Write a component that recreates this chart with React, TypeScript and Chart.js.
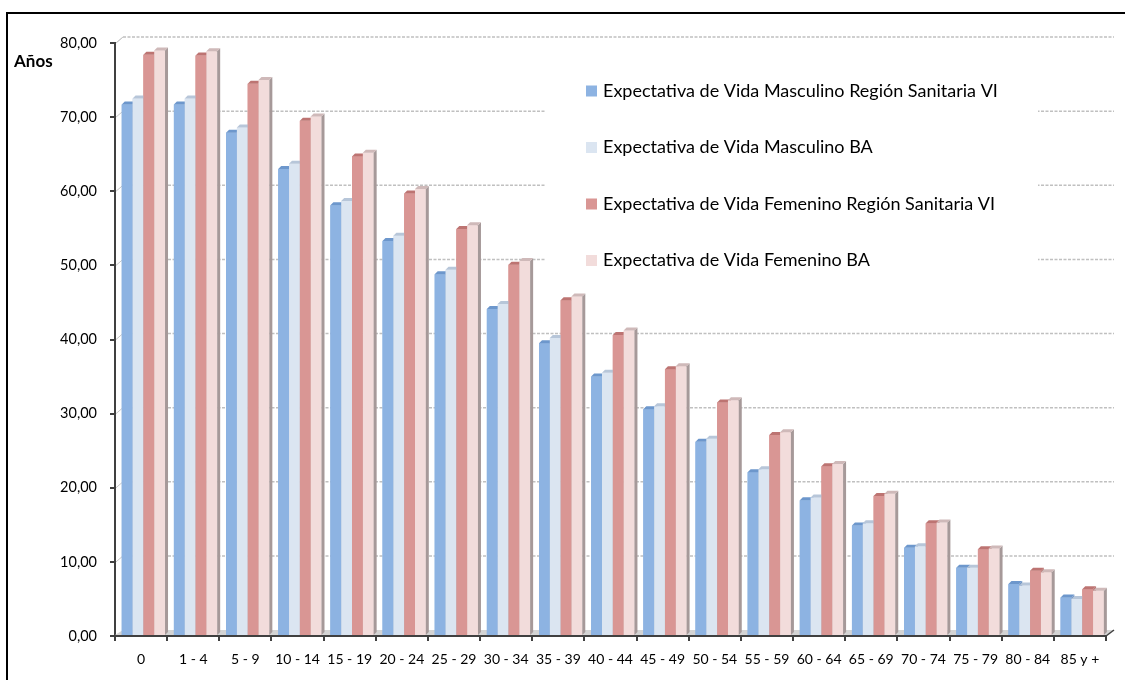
import React, { useEffect, useRef } from "react";
import { Chart, registerables } from "chart.js";

Chart.register(...registerables);

const categories = [
  "0", "1 - 4", "5 - 9", "10 - 14", "15 - 19", "20 - 24", "25 - 29", "30 - 34", "35 - 39",
  "40 - 44", "45 - 49", "50 - 54", "55 - 59", "60 - 64", "65 - 69", "70 - 74", "75 - 79",
  "80 - 84", "85 y +",
];

const seriesLabels = [
  "Expectativa de Vida Masculino Región Sanitaria VI",
  "Expectativa de Vida Masculino BA",
  "Expectativa de Vida Femenino Región Sanitaria VI",
  "Expectativa de Vida Femenino BA",
];

const masculinoRegion = [71.7, 71.7, 67.9, 63.0, 58.1, 53.3, 48.8, 44.1, 39.5, 35.0, 30.6, 26.2, 22.1, 18.3, 14.9, 11.9, 9.2, 7.0, 5.2];
const masculinoBA = [72.5, 72.5, 68.6, 63.7, 58.7, 54.0, 49.4, 44.8, 40.2, 35.5, 31.0, 26.6, 22.5, 18.7, 15.2, 12.1, 9.2, 6.8, 5.0];
const femeninoRegion = [78.4, 78.3, 74.5, 69.5, 64.7, 59.7, 54.9, 50.1, 45.3, 40.6, 36.0, 31.5, 27.1, 22.9, 18.9, 15.2, 11.7, 8.8, 6.3];
const femeninoBA = [79.0, 78.9, 75.0, 70.1, 65.2, 60.3, 55.4, 50.6, 45.8, 41.2, 36.4, 31.8, 27.5, 23.2, 19.2, 15.3, 11.8, 8.6, 6.1];

const yMin = 0;
const yMax = 80;
const yStep = 10;
const yAxisTitle = "Años";

const frontColors = ["#8db3e2", "#dbe5f1", "#d99694", "#f2dcdb"];
const sideColors = ["#6f94c4", "#b0bccb", "#b57270", "#a69999"];
const topColors = ["#6d97cc", "#b7c6d9", "#bd7472", "#cfb9b9"];

const FONT = "Lato, 'Noto Sans', sans-serif";
const DEPTH = 3;
const WALL_DX = 8;
const WALL_DY = 6;
const BAR_SHIFT = 2.3;

const LEGEND = {
  bgLeft: 545, bgTop: 56, bgRight: 1038, bgBottom: 290,
  boxX: 586, boxTop: 85.5, box: 11, rowGap: 56.5, textX: 603, fontSize: 18,
};

const fmt = (v: number) => Number(v).toFixed(2).replace(".", ",");

const threeDPlugin = {
  id: "threeD",
  beforeDatasetsDraw(chart: any) {
    const { ctx, chartArea, scales } = chart;
    const ys = scales.y;
    const { left, right, bottom } = chartArea;
    ctx.save();
    // floor
    ctx.fillStyle = "#d4d4d4";
    ctx.beginPath();
    ctx.moveTo(left, bottom - 1);
    ctx.lineTo(left + WALL_DX, bottom - WALL_DY);
    ctx.lineTo(right + WALL_DX, bottom - WALL_DY);
    ctx.lineTo(right, bottom - 1);
    ctx.closePath();
    ctx.fill();
    // back wall gridlines + side wall lines
    for (let v = yMin + yStep; v <= yMax; v += yStep) {
      const py = ys.getPixelForValue(v);
      ctx.strokeStyle = "#c0c0c0";
      ctx.lineWidth = 1.5;
      ctx.setLineDash([3, 1.5]);
      ctx.beginPath();
      ctx.moveTo(left + WALL_DX, py - WALL_DY);
      ctx.lineTo(right + WALL_DX, py - WALL_DY);
      ctx.stroke();
      ctx.setLineDash([]);
      ctx.strokeStyle = "#c8c8c8";
      ctx.lineWidth = 1;
      ctx.beginPath();
      ctx.moveTo(left + 1, py);
      ctx.lineTo(left + WALL_DX, py - WALL_DY);
      ctx.stroke();
    }
    // legend background
    ctx.fillStyle = "#ffffff";
    ctx.fillRect(LEGEND.bgLeft, LEGEND.bgTop, LEGEND.bgRight - LEGEND.bgLeft, LEGEND.bgBottom - LEGEND.bgTop);
    ctx.restore();
    ctx.save();
    ctx.translate(BAR_SHIFT, 0);
  },
  afterDatasetsDraw(chart: any) {
    const { ctx, chartArea } = chart;
    // redraw bars with 3D faces in series order (left to right in each group)
    chart.data.datasets.forEach((_ds: any, i: number) => {
      const meta = chart.getDatasetMeta(i);
      meta.data.forEach((el: any) => {
        const { x, y, width, base } = el.getProps(["x", "y", "width", "base"], true);
        const l = x - width / 2;
        const r = x + width / 2;
        ctx.fillStyle = frontColors[i];
        ctx.fillRect(l, y, width, base - y);
        ctx.fillStyle = sideColors[i];
        ctx.beginPath();
        ctx.moveTo(r, y);
        ctx.lineTo(r + DEPTH, y - DEPTH);
        ctx.lineTo(r + DEPTH, base - DEPTH);
        ctx.lineTo(r, base);
        ctx.closePath();
        ctx.fill();
        ctx.fillStyle = topColors[i];
        ctx.beginPath();
        ctx.moveTo(l, y);
        ctx.lineTo(l + DEPTH, y - DEPTH);
        ctx.lineTo(r + DEPTH, y - DEPTH);
        ctx.lineTo(r, y);
        ctx.closePath();
        ctx.fill();
      });
    });
    ctx.restore();
    ctx.save();
    // redraw baseline over bar bottoms
    ctx.strokeStyle = "#404040";
    ctx.lineWidth = 2;
    ctx.beginPath();
    ctx.moveTo(chartArea.left, chartArea.bottom);
    ctx.lineTo(chartArea.right, chartArea.bottom);
    ctx.stroke();
    // right floor edge
    ctx.lineWidth = 1.5;
    ctx.beginPath();
    ctx.moveTo(chartArea.right, chartArea.bottom);
    ctx.lineTo(chartArea.right + WALL_DX, chartArea.bottom - WALL_DY);
    ctx.stroke();
    // wall top-left corner
    ctx.strokeStyle = "#c8c8c8";
    ctx.lineWidth = 1;
    ctx.beginPath();
    ctx.moveTo(chartArea.left + 1, chartArea.top);
    ctx.lineTo(chartArea.left + WALL_DX, chartArea.top - WALL_DY);
    ctx.stroke();
    // legend
    ctx.font = `${LEGEND.fontSize}px ${FONT}`;
    ctx.textBaseline = "middle";
    ctx.textAlign = "left";
    chart.data.datasets.forEach((ds: any, i: number) => {
      const top = LEGEND.boxTop + i * LEGEND.rowGap;
      ctx.fillStyle = ds.backgroundColor;
      ctx.fillRect(LEGEND.boxX, top, LEGEND.box, LEGEND.box);
      ctx.fillStyle = "#000";
      ctx.fillText(ds.label, LEGEND.textX, top + LEGEND.box / 2);
    });
    // axis title
    ctx.font = `bold 17px ${FONT}`;
    ctx.fillStyle = "#000";
    ctx.textBaseline = "alphabetic";
    ctx.fillText(yAxisTitle, 14, 67);
    // outer border
    ctx.strokeStyle = "#000";
    ctx.lineWidth = 2;
    ctx.strokeRect(7, 13, 1300, 1000);
    ctx.restore();
  },
};

export default function App() {
  const ref = useRef<HTMLCanvasElement | null>(null);
  useEffect(() => {
    if (!ref.current) return;
    const series = [masculinoRegion, masculinoBA, femeninoRegion, femeninoBA];
    const chart = new Chart(ref.current, {
      type: "bar",
      data: {
        labels: categories,
        datasets: series.map((d, i) => ({
          label: seriesLabels[i],
          data: d,
          backgroundColor: frontColors[i],
          borderWidth: 0,
          categoryPercentage: 0.83,
          barPercentage: 1.0,
        })),
      },
      options: {
        animation: false,
        responsive: false,
        devicePixelRatio: 1,
        layout: { padding: { left: 0, top: 43, right: 19, bottom: 0 } },
        plugins: { legend: { display: false }, tooltip: { enabled: false } },
        scales: {
          x: {
            ticks: { color: "#000", font: { family: FONT, size: 14 }, padding: 10, maxRotation: 0, autoSkip: false },
            grid: { display: true, drawOnChartArea: false, offset: true, tickLength: 5, color: "#404040", lineWidth: 2 },
            border: { display: true, color: "#404040", width: 2 },
            afterFit: (s: any) => { s.height = 44; },
          },
          y: {
            min: yMin,
            max: yMax,
            ticks: { stepSize: yStep, padding: 13, color: "#000", font: { family: FONT, size: 14.5 }, callback: (v: any) => fmt(v) },
            grid: { display: true, drawOnChartArea: false, tickLength: 5, color: "#404040", lineWidth: 2 },
            border: { display: true, color: "#404040", width: 2 },
            afterFit: (s: any) => { s.width = 115; },
          },
        },
      },
      plugins: [threeDPlugin],
    });
    return () => chart.destroy();
  }, []);
  return (
    <div style={{ position: "absolute", left: 0, top: 0, width: 1125, height: 680, background: "#fff" }}>
      <canvas ref={ref} width={1125} height={680} />
    </div>
  );
}
